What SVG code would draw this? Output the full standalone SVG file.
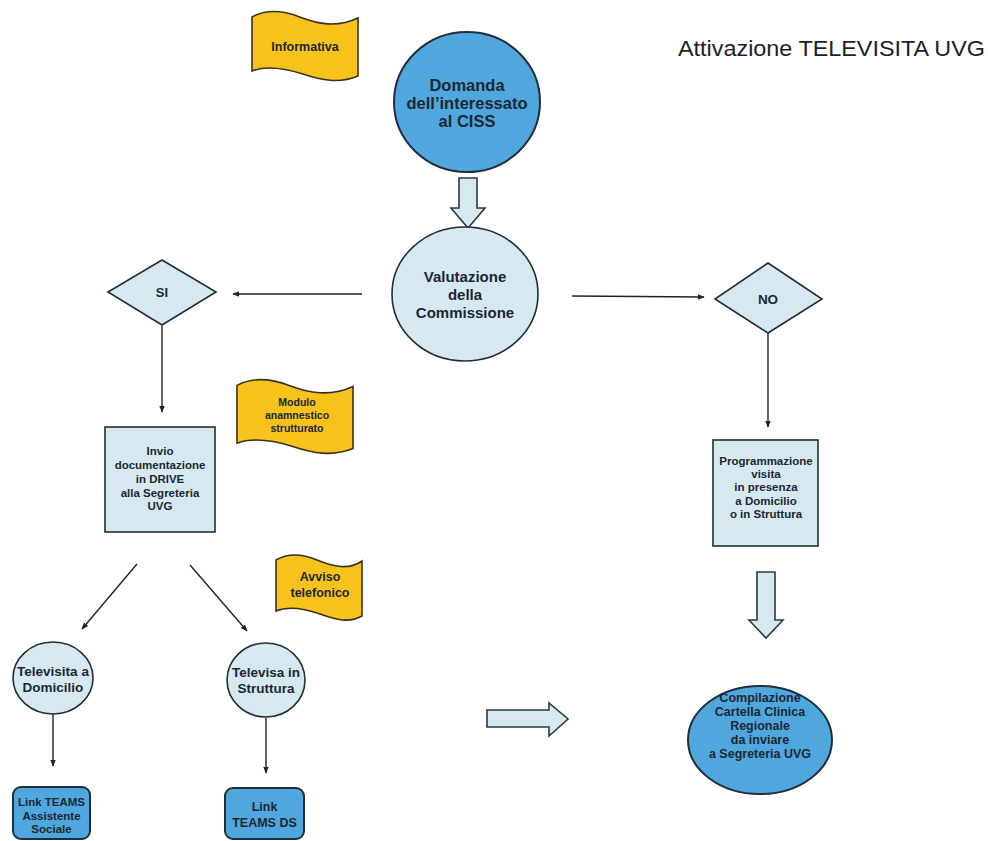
<svg xmlns="http://www.w3.org/2000/svg" width="988" height="841" viewBox="0 0 988 841">
<defs>
<marker id="ah" viewBox="0 0 10 10" refX="9" refY="5" markerWidth="7" markerHeight="7" markerUnits="userSpaceOnUse" orient="auto">
<path d="M0,1 L10,5 L0,9 Z" fill="#222"/>
</marker>
<style>
.t{font-family:"Liberation Sans",Arial,Helvetica,sans-serif;font-weight:bold;fill:#1c2733;text-anchor:middle}
.blue{fill:#4fa7dd;stroke:#1f2e3a;stroke-width:2}
.lite{fill:#d6e9f1;stroke:#1f2e3a;stroke-width:1.6}
.flag{fill:#f8c21c;stroke:#3a3020;stroke-width:1.6}
.blk{fill:#d6e9f1;stroke:#2a3a44;stroke-width:1.6}
.ln{stroke:#222;stroke-width:1.4;fill:none;marker-end:url(#ah)}
</style>
</defs>
<rect width="988" height="841" fill="#ffffff"/>
<text x="678" y="56" font-family="Liberation Sans,Arial,sans-serif" font-size="22" fill="#1e1e1e" textLength="307" lengthAdjust="spacingAndGlyphs">Attivazione TELEVISITA UVG</text>

<g id="connectors">
<path class="ln" d="M362,294 L233,294"/>
<path class="ln" d="M572,296 L704,297"/>
<path class="ln" d="M162,326 L162,412"/>
<path class="ln" d="M768,333 L768,427"/>
<path class="ln" d="M137,564 L82,629"/>
<path class="ln" d="M190,565 L247,631"/>
<path class="ln" d="M53,714 L53,766"/>
<path class="ln" d="M266,718 L266,773"/>
<path class="blk" d="M459,178 L477,178 L477,208 L485,208 L468,228 L451,208 L459,208 Z"/>
<path class="blk" d="M757,572 L775,572 L775,620 L783,620 L766,638 L749,620 L757,620 Z"/>
<path class="blk" d="M487,710 L549,710 L549,703 L568,719 L549,736 L549,727 L487,727 Z"/>
</g>

<g id="informativa">
<path class="flag" d="M252,17 C264.7,10 281.7,10 299.7,17 C317.7,24 336.8,28 358,18 L358,76 C338.9,84 320.9,80 302.9,74 C283.8,68 264.7,66 252,71 Z"/>
<text class="t" x="305" y="51" font-size="12.5">Informativa</text>
</g>

<g id="domanda">
<ellipse class="blue" cx="467" cy="102" rx="73" ry="70"/>
<text class="t" x="467" y="91" font-size="16.5">Domanda</text>
<text class="t" x="467" y="109" font-size="16.5">dell’interessato</text>
<text class="t" x="467" y="127" font-size="16.5">al CISS</text>
</g>

<g id="valutazione">
<ellipse class="lite" cx="465" cy="294" rx="73" ry="67"/>
<text class="t" x="465" y="282" font-size="15">Valutazione</text>
<text class="t" x="465" y="300" font-size="15">della</text>
<text class="t" x="465" y="318" font-size="15">Commissione</text>
</g>

<g id="si">
<path class="lite" d="M162,260 L216,292 L162,325 L108,292 Z"/>
<text class="t" x="162" y="297" font-size="13">SI</text>
</g>

<g id="no">
<path class="lite" d="M768,263 L822,299 L768,333 L715,299 Z"/>
<text class="t" x="768" y="304" font-size="13.5">NO</text>
</g>

<g id="invio">
<rect class="lite" x="105" y="427" width="110" height="105"/>
<text class="t" x="160" y="455" font-size="11.5">Invio</text>
<text class="t" x="160" y="469" font-size="11.5">documentazione</text>
<text class="t" x="160" y="483" font-size="11.5">in DRIVE</text>
<text class="t" x="160" y="497" font-size="11.5">alla Segreteria</text>
<text class="t" x="160" y="510" font-size="11.5">UVG</text>
</g>

<g id="modulo">
<path class="flag" d="M237,385.4 C250.9,377.9 269.5,377.9 289.2,385.4 C308.9,392.9 329.8,397.1 353,386.4 L353,448.6 C332.1,457.1 312.4,452.9 292.7,446.4 C271.8,440 250.9,437.9 237,443.2 Z"/>
<text class="t" x="297" y="406" font-size="10.5">Modulo</text>
<text class="t" x="297" y="419" font-size="10.5">anamnestico</text>
<text class="t" x="297" y="432" font-size="10.5">strutturato</text>
</g>

<g id="programmazione">
<rect class="lite" x="713" y="440" width="105" height="106"/>
<text class="t" x="766" y="465" font-size="11.5">Programmazione</text>
<text class="t" x="766" y="478" font-size="11.5">visita</text>
<text class="t" x="766" y="491" font-size="11.5">in presenza</text>
<text class="t" x="766" y="505" font-size="11.5">a Domicilio</text>
<text class="t" x="766" y="518" font-size="11.5">o in Struttura</text>
</g>

<g id="avviso">
<path class="flag" d="M276,560 C287,553.4 301,553.4 317,560 C333,566.6 349,570.4 362,561 L362,616 C349,623.5 336,619.7 320,614 C304,608.4 287,606.5 276,611 Z"/>
<text class="t" x="320" y="581" font-size="12.5">Avviso</text>
<text class="t" x="320" y="597" font-size="12.5">telefonico</text>
</g>

<g id="televisita-domicilio">
<ellipse class="lite" cx="53" cy="678" rx="40" ry="36"/>
<text class="t" x="53" y="676" font-size="13.5">Televisita a</text>
<text class="t" x="53" y="692" font-size="13.5">Domicilio</text>
</g>

<g id="televisa-struttura">
<ellipse class="lite" cx="266" cy="680" rx="39" ry="37"/>
<text class="t" x="266" y="677" font-size="13.5">Televisa in</text>
<text class="t" x="266" y="693" font-size="13.5">Struttura</text>
</g>

<g id="link-as">
<rect class="blue" x="13" y="787" width="77" height="52" rx="8"/>
<text class="t" x="51.5" y="806" font-size="11.5">Link TEAMS</text>
<text class="t" x="51.5" y="820" font-size="11.5">Assistente</text>
<text class="t" x="51.5" y="833" font-size="11.5">Sociale</text>
</g>

<g id="link-ds">
<rect class="blue" x="225" y="788" width="79" height="51" rx="8"/>
<text class="t" x="264.5" y="811" font-size="12.5">Link</text>
<text class="t" x="264.5" y="827" font-size="12.5">TEAMS DS</text>
</g>

<g id="compilazione">
<ellipse class="blue" cx="760" cy="740" rx="72" ry="54"/>
<text class="t" x="760" y="702" font-size="12.5">Compilazione</text>
<text class="t" x="760" y="716" font-size="12.5">Cartella Clinica</text>
<text class="t" x="760" y="730" font-size="12.5">Regionale</text>
<text class="t" x="760" y="744" font-size="12.5">da inviare</text>
<text class="t" x="760" y="758" font-size="12.5">a Segreteria UVG</text>
</g>
</svg>
